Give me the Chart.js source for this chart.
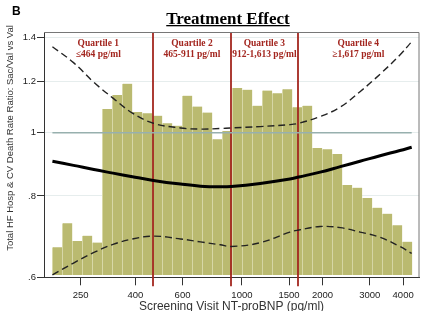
<!DOCTYPE html>
<html lang="en">
<head>
  <meta charset="UTF-8" />
  <title>Treatment Effect</title>
  <script src="https://cdn.jsdelivr.net/npm/chart.js"></script>
  <style>
    body {
      margin: 0;
      background: #fff;
    }
    canvas {
      display: block;
    }
  </style>
</head>
<body>
  <canvas id="effectChart" width="421" height="311"></canvas>

  <script>
    // histogram of screening NT-proBNP (log-spaced bins, share of patients)
    const binCenters = [204.4, 222.8, 242.8, 264.5, 288.3, 314.2, 342.4, 373.1, 406.6, 443.1,
      482.9, 526.3, 573.5, 625.0, 681.1, 742.3, 808.9, 881.5, 960.7, 1047,
      1141, 1243, 1355, 1477, 1609, 1754, 1911, 2083, 2270, 2473,
      2695, 2937, 3201, 3489, 3802, 4143];
    const binShare = [0.69, 1.29, 0.85, 0.98, 0.81, 4.15, 4.50, 4.78, 4.07, 4.04,
      3.98, 3.79, 3.73, 4.48, 4.21, 4.06, 3.39, 3.60, 4.67, 4.63,
      4.23, 4.61, 4.54, 4.64, 4.19, 4.23, 3.17, 3.14, 3.02, 2.25,
      2.18, 1.92, 1.68, 1.53, 1.24, 0.83];

    // rate ratio curve with 95% CI
    const curveX = [196, 235, 280, 330, 390, 467, 590, 700, 830, 912,
      1170, 1510, 1630, 1960, 2330, 2760, 3280, 3890, 4305];
    const rateRatio = [0.904, 0.891, 0.878, 0.867, 0.856, 0.845, 0.834, 0.828, 0.826, 0.827,
      0.836, 0.849, 0.855, 0.870, 0.887, 0.904, 0.922, 0.939, 0.950];
    const ciUpper = [1.355, 1.281, 1.195, 1.130, 1.072, 1.034, 1.017, 1.013, 1.015, 1.017,
      1.022, 1.029, 1.034, 1.059, 1.095, 1.156, 1.230, 1.316, 1.380];
    const ciLower = [0.605, 0.631, 0.655, 0.674, 0.687, 0.694, 0.687, 0.680, 0.673, 0.669,
      0.678, 0.704, 0.709, 0.718, 0.715, 0.704, 0.691, 0.669, 0.653];

    const refX = [196, 4305];
    const refY = [1, 1];

    const quartileCuts = [464, 912, 1613];
    const quartileNames = ['Quartile 1', 'Quartile 2', 'Quartile 3', 'Quartile 4'];
    const quartileRanges = ['\u2264464 pg/ml', '465-911 pg/ml', '912-1,613 pg/ml', '\u22651,617 pg/ml'];

    const xTickValues = [250, 400, 600, 1000, 1500, 2000, 3000, 4000];
    const xTickLabels = ['250', '400', '600', '1000', '1500', '2000', '3000', '4000'];
    const yTickValues = [0.6, 0.8, 1, 1.2, 1.4];
    const yTickLabels = ['.6', '.8', '1', '1.2', '1.4'];

    const pairs = (xs, ys) => xs.map((x, i) => ({ x: x, y: ys[i] }));

    const darkRed = '#a3261f';

    const decorations = {
      id: 'decorations',
      afterDatasetDraw(chart, args) {
        // quartile cut lines go right above the histogram
        if (args.index !== 0) return;
        const { ctx, chartArea, scales } = chart;
        ctx.save();
        ctx.strokeStyle = darkRed;
        ctx.lineWidth = 1.8;
        quartileCuts.forEach(v => {
          const px = Math.round(scales.x.getPixelForValue(v));
          ctx.beginPath();
          ctx.moveTo(px, chartArea.top);
          ctx.lineTo(px, chartArea.bottom + 9);
          ctx.stroke();
        });
        ctx.restore();
      },
      afterDraw(chart) {
        const { ctx, chartArea, scales } = chart;
        ctx.save();

        // frame top and right
        ctx.strokeStyle = '#777';
        ctx.lineWidth = 1;
        ctx.beginPath();
        ctx.moveTo(chartArea.left, chartArea.top);
        ctx.lineTo(chartArea.right, chartArea.top);
        ctx.lineTo(chartArea.right, chartArea.bottom);
        ctx.stroke();

        // quartile labels, centred in each band
        const bounds = [scales.x.min, ...quartileCuts, scales.x.max];
        ctx.fillStyle = darkRed;
        ctx.font = 'bold 9.5px "Liberation Serif"';
        ctx.textAlign = 'center';
        ctx.textBaseline = 'alphabetic';
        quartileNames.forEach((name, i) => {
          const mid = Math.sqrt(bounds[i] * bounds[i + 1]);
          const px = scales.x.getPixelForValue(mid);
          ctx.fillText(name, px, 46);
          ctx.fillText(quartileRanges[i], px, 56.5);
        });

        // title
        ctx.fillStyle = '#000';
        ctx.font = 'bold 17px "Liberation Serif"';
        const title = 'Treatment Effect';
        const tw = ctx.measureText(title).width;
        ctx.fillText(title, 228, 23.5);
        ctx.fillRect(228 - tw / 2, 25, tw, 1.3);

        // panel letter
        ctx.textAlign = 'left';
        ctx.font = 'bold 12px "Liberation Sans"';
        ctx.fillText('B', 12, 15);

        // y axis title
        ctx.fillStyle = '#333';
        ctx.font = '9.5px "Liberation Sans"';
        ctx.translate(10, 138);
        ctx.rotate(-Math.PI / 2);
        ctx.textAlign = 'center';
        ctx.textBaseline = 'middle';
        ctx.fillText('Total HF Hosp & CV Death Rate Ratio: Sac/Val vs Val', 0, 0);
        ctx.restore();
      }
    };

    new Chart(document.getElementById('effectChart'), {
      type: 'line',
      data: {
        datasets: [
          {
            type: 'bar',
            label: 'Distribution',
            data: pairs(binCenters, binShare),
            yAxisID: 'y2',
            backgroundColor: 'rgb(186,186,112)',
            borderColor: 'rgb(216,216,168)',
            borderWidth: { left: 1, right: 0, top: 0, bottom: 0 },
            categoryPercentage: 1,
            barPercentage: 1,
            order: 5
          },
          {
            label: 'Reference',
            data: pairs(refX, refY),
            borderColor: '#97b0ae',
            borderWidth: 1.3,
            pointRadius: 0,
            order: 4
          },
          {
            label: 'Upper CI',
            data: pairs(curveX, ciUpper),
            borderColor: '#222',
            borderWidth: 1.4,
            borderDash: [7, 4],
            pointRadius: 0,
            tension: 0.4,
            order: 2
          },
          {
            label: 'Lower CI',
            data: pairs(curveX, ciLower),
            borderColor: '#222',
            borderWidth: 1.4,
            borderDash: [7, 4],
            pointRadius: 0,
            tension: 0.4,
            order: 2
          },
          {
            label: 'Rate ratio',
            data: pairs(curveX, rateRatio),
            borderColor: '#000',
            borderWidth: 3,
            pointRadius: 0,
            tension: 0.4,
            order: 1
          }
        ]
      },
      options: {
        responsive: false,
        animation: false,
        layout: { padding: { top: 32.5, right: 2, left: 0, bottom: 0 } },
        plugins: {
          legend: { display: false },
          tooltip: { enabled: false }
        },
        scales: {
          x: {
            type: 'logarithmic',
            min: 182.3,
            max: 4584,
            offset: false,
            afterFit: s => { s.height = 33.7; },
            afterBuildTicks: s => { s.ticks = xTickValues.map(v => ({ value: v })); },
            ticks: {
              autoSkip: false,
              maxRotation: 0,
              padding: 4,
              color: '#222',
              font: { family: 'Liberation Sans', size: 9.5 },
              callback: (v, i) => xTickLabels[i]
            },
            grid: {
              offset: false,
              drawOnChartArea: false,
              tickLength: 8,
              tickColor: '#333'
            },
            border: { color: '#333', width: 1 },
            title: {
              display: true,
              text: 'Screening Visit NT-proBNP (pg/ml)',
              color: '#333',
              font: { family: 'Liberation Sans', size: 12, lineHeight: 1 },
              padding: { top: 0, bottom: -2 }
            }
          },
          y: {
            type: 'logarithmic',
            min: 0.6,
            max: 1.425,
            afterFit: s => { s.width = 44; },
            afterBuildTicks: s => { s.ticks = yTickValues.map(v => ({ value: v })); },
            ticks: {
              padding: 1,
              color: '#222',
              font: { family: 'Liberation Sans', size: 9.5 },
              callback: (v, i) => yTickLabels[i]
            },
            grid: {
              color: '#e6eded',
              tickLength: 7,
              tickColor: '#333'
            },
            border: { color: '#333', width: 1 }
          },
          y2: {
            type: 'linear',
            display: false,
            min: -0.06,
            max: 6.06
          }
        }
      },
      plugins: [decorations]
    });
  </script>
</body>
</html>
